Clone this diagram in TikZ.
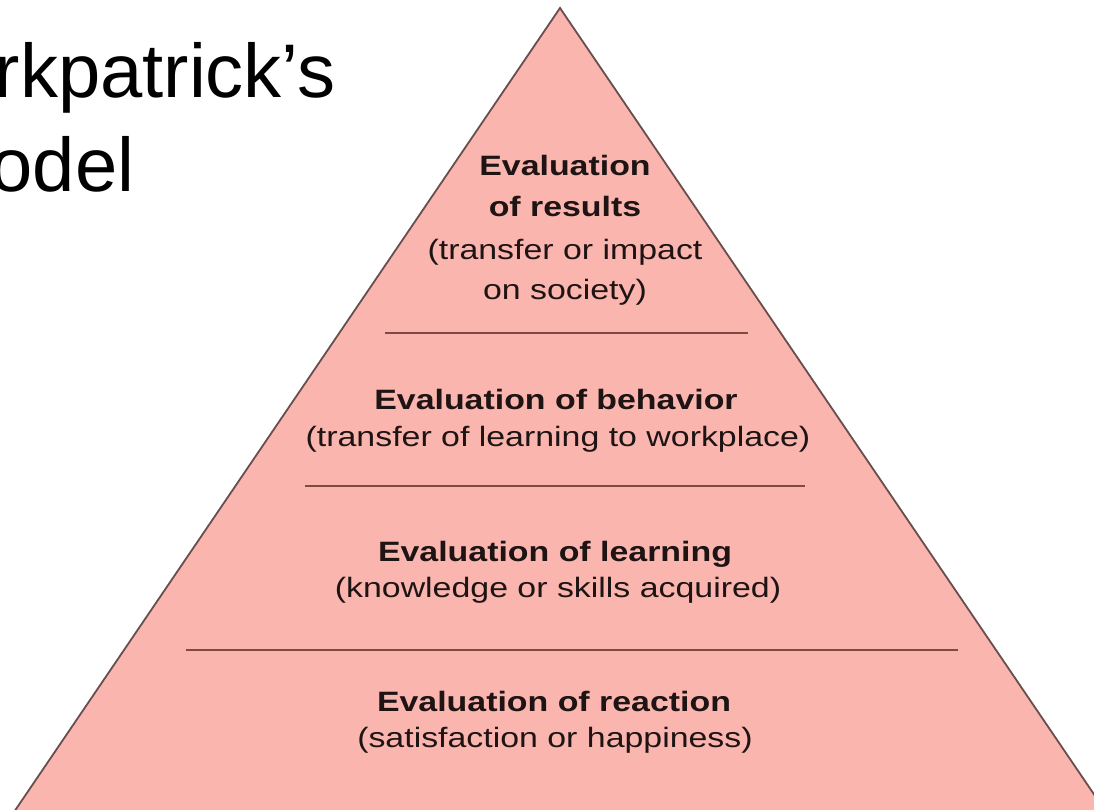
\documentclass[tikz,border=0pt]{standalone}
\usepackage{fontspec}
\setmainfont{Liberation Sans}
\newfontfamily\boxfont{Liberation Sans}[FakeStretch=1.21]
\newfontfamily\titlefont{Liberation Sans}
\definecolor{pyrfill}{RGB}{250,181,175}
\definecolor{pyredge}{RGB}{105,78,78}
\definecolor{sepline}{RGB}{130,72,70}
\definecolor{txt}{RGB}{30,20,20}
\tikzset{
  head/.style={inner sep=0pt, anchor=base, text=txt, font=\boxfont\fontsize{28}{34}\selectfont\bfseries},
  sub/.style={inner sep=0pt, anchor=base, text=txt, font=\boxfont\fontsize{28}{34}\selectfont},
  titletext/.style={inner sep=0pt, anchor=base west, text=black, font=\titlefont\fontsize{76}{94}\selectfont},
  sep/.style={draw=sepline, line width=1.8pt},
  pyr/.style={fill=pyrfill, draw=pyredge, line width=1.8pt, line join=miter}
}
\begin{document}
\begin{tikzpicture}[x=1pt,y=-1pt]
\useasboundingbox (0,0) rectangle (1094,810);
\clip (0,0) rectangle (1094,810);
\fill[white] (0,0) rectangle (1094,810);
% pyramid
\coordinate (apex) at (560,8);
\coordinate (bl) at (14,812);
\coordinate (br) at (1106,812);
\draw[pyr] (bl) -- (apex) -- (br);
% separators
\coordinate (s1a) at (385,333); \coordinate (s1b) at (748,333);
\coordinate (s2a) at (305,486); \coordinate (s2b) at (805,486);
\coordinate (s3a) at (186,650); \coordinate (s3b) at (958,650);
\draw[sep] (s1a) -- (s1b);
\draw[sep] (s2a) -- (s2b);
\draw[sep] (s3a) -- (s3b);
% title
\node[titletext] (t1) at (-73,98) {Kirkpatrick’s};
\node[titletext] (t2) at (-73,192) {Model};
% results
\node[head] (r1) at (565,176) {Evaluation};
\node[head] (r2) at (565,217) {of results};
\node[sub] (r3) at (565,259) {(transfer or impact};
\node[sub] (r4) at (565,299) {on society)};
% behavior
\node[head] (b1) at (556,409) {Evaluation of behavior};
\node[sub] (b2) at (558,446) {(transfer of learning to workplace)};
% learning
\node[head] (l1) at (555,561) {Evaluation of learning};
\node[sub] (l2) at (558,597) {(knowledge or skills acquired)};
% reaction
\node[head] (e1) at (554,711) {Evaluation of reaction};
\node[sub] (e2) at (555,747) {(satisfaction or happiness)};
\end{tikzpicture}
\end{document}
